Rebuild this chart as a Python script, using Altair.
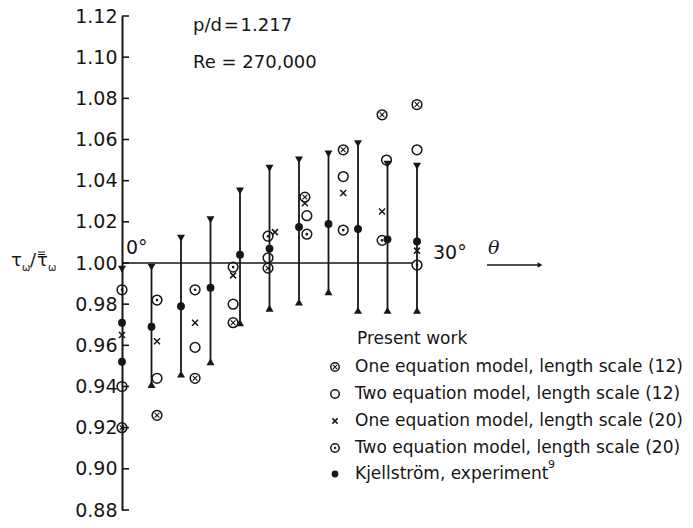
import altair as alt
import pandas as pd

# ---------------- data ----------------
# model results (plotted theta positions, degrees)
one12_theta = [0, 3.56, 7.43, 11.3, 14.85, 18.6, 22.5, 26.45, 30]
one12_val = [0.920, 0.926, 0.944, 0.971, 0.9975, 1.032, 1.055, 1.072, 1.077]
two12_theta = [0, 3.56, 7.43, 11.3, 14.85, 18.8, 22.5, 26.9, 30]
two12_val = [0.940, 0.944, 0.959, 0.980, 1.0025, 1.023, 1.042, 1.050, 1.055]
one20_theta = [0, 3.56, 7.43, 11.3, 15.55, 18.6, 22.5, 26.45, 30]
one20_val = [0.965, 0.962, 0.971, 0.994, 1.015, 1.029, 1.034, 1.025, 1.006]
two20_theta = [0, 3.56, 7.43, 11.3, 14.85, 18.8, 22.5, 26.45, 30]
two20_val = [0.987, 0.982, 0.987, 0.998, 1.013, 1.014, 1.016, 1.011, 0.999]

# Kjellstrom experiment
kj_theta = [0, 0, 3, 6, 9, 12, 15, 18, 21, 24, 27, 30]
kj_val = [0.971, 0.952, 0.969, 0.979, 0.988, 1.004, 1.007, 1.0175, 1.019, 1.0165, 1.0115, 1.0105]

# experimental range bars
bar_theta = [0, 3, 6, 9, 12, 15, 18, 21, 24, 27, 30]
bar_top = [0.997, 0.998, 1.012, 1.021, 1.035, 1.046, 1.050, 1.053, 1.058, 1.048, 1.047]
bar_bottom = [None, 0.941, 0.946, 0.952, 0.971, 0.978, 0.981, 0.986, 0.977, 0.977, 0.977]

tick_values = [0.88, 0.90, 0.92, 0.94, 0.96, 0.98, 1.00, 1.02, 1.04, 1.06, 1.08, 1.10, 1.12]

legend_labels = [
    "One equation model, length scale (12)",
    "Two equation model, length scale (12)",
    "One equation model, length scale (20)",
    "Two equation model, length scale (20)",
    "Kjellström, experiment",
]
legend_kinds = ["one12", "two12", "one20", "two20", "kj"]

# ---------------- styling ----------------
FONT = "DejaVu Sans"
INK = "#161616"
W, H = 295, 494
PAD = {"left": 122, "top": 16, "right": 693 - 122 - W, "bottom": 528 - 16 - H}

xscale = alt.Scale(domain=[0, 30], nice=False, zero=False)
yscale = alt.Scale(domain=[0.88, 1.12], nice=False, zero=False)
yaxis = alt.Axis(values=tick_values, format=".2f", title=None, ticks=False, tickSize=0,
                 labelPadding=5, labelFont=FONT, labelFontSize=19, labelColor=INK,
                 domainColor=INK, domainWidth=2, grid=False, labelOverlap=False)


def X(f):
    return alt.X(f, type="quantitative", scale=xscale, axis=None)


def Y(f):
    return alt.Y(f, type="quantitative", scale=yscale, axis=yaxis)


def series_df(theta, vals):
    return pd.DataFrame({"theta": theta, "value": vals})


CROSS = "M-1,-1L1,1M-1,1L1,-1"


def symbol(df, kind, enc, k=1.0):
    layers = []
    if kind in ("one12", "two12", "two20"):
        layers.append(alt.Chart(df).mark_point(shape="circle", filled=False, color=INK,
                                               strokeWidth=1.5, size=95 * k, opacity=1).encode(**enc))
    if kind == "one12":
        layers.append(alt.Chart(df).mark_point(shape=CROSS, filled=False, color=INK,
                                               strokeWidth=1.1, size=22 * k, opacity=1).encode(**enc))
    if kind == "two20":
        layers.append(alt.Chart(df).mark_point(shape="circle", filled=True, color=INK,
                                               size=7 * k, opacity=1).encode(**enc))
    if kind == "one20":
        layers.append(alt.Chart(df).mark_point(shape=CROSS, filled=False, color=INK,
                                               strokeWidth=1.5, size=36 * k, opacity=1).encode(**enc))
    if kind == "kj":
        layers.append(alt.Chart(df).mark_point(shape="circle", filled=True, color=INK,
                                               size=62 * k, opacity=1).encode(**enc))
    return layers


layers = []

# inward y ticks
ticks_df = pd.DataFrame({"value": tick_values})
layers.append(alt.Chart(ticks_df).mark_rule(color=INK, strokeWidth=1.6).encode(
    y=Y("value"), x=alt.value(0), x2=alt.value(7)))

# 1.00 baseline
base_df = pd.DataFrame({"value": [1.0]})
layers.append(alt.Chart(base_df).mark_rule(color=INK, strokeWidth=1.6).encode(
    y=Y("value"), x=alt.value(0), x2=alt.value(290)))

# range bars
bars = pd.DataFrame({"theta": bar_theta, "top": bar_top, "bottom": bar_bottom})
bars_full = bars.dropna()
layers.append(alt.Chart(bars_full).mark_rule(color=INK, strokeWidth=1.8).encode(
    x=X("theta"), y=Y("bottom"), y2="top"))
layers.append(alt.Chart(bars).mark_point(shape="triangle-down", filled=True, color=INK,
                                         size=64, opacity=1).encode(x=X("theta"), y=Y("top")))
layers.append(alt.Chart(bars_full).mark_point(shape="triangle-up", filled=True, color=INK,
                                              size=64, opacity=1).encode(x=X("theta"), y=Y("bottom")))

# data points
for kind, th, vv in [("one12", one12_theta, one12_val), ("two12", two12_theta, two12_val),
                     ("one20", one20_theta, one20_val), ("two20", two20_theta, two20_val),
                     ("kj", kj_theta, kj_val)]:
    layers += symbol(series_df(th, vv), kind, {"x": X("theta"), "y": Y("value")})

one = pd.DataFrame({"k": [0]})


def txt(s, x, y, size=19, align="left", style="normal", font=FONT, baseline="middle"):
    return alt.Chart(one).mark_text(text=s, font=font, fontSize=size, color=INK, align=align,
                                    baseline=baseline, fontStyle=style).encode(
        x=alt.value(x), y=alt.value(y))


def hline(x1, x2, y, w=1.0):
    return alt.Chart(one).mark_rule(color=INK, strokeWidth=w).encode(
        x=alt.value(x1), x2=alt.value(x2), y=alt.value(y))


# annotations
layers.append(txt("p/d\u200a=\u200a1.217", 71, 10, 18))
layers.append(txt("Re = 270,000", 71, 47, 18))
layers.append(txt("0°", 4, 232, 19))
layers.append(txt("30°", 311, 237, 19))
layers.append(txt("θ", 366, 232, 19, style="italic", font="DejaVu Serif"))
layers.append(hline(365, 417, 249, 1.5))
layers.append(alt.Chart(one).mark_point(shape="triangle-right", filled=True, color=INK,
                                        size=30, opacity=1).encode(x=alt.value(418), y=alt.value(249)))

# y-axis title  tau_w / double-bar tau_w
layers.append(txt("τ", -111, 245, 18))
layers.append(txt("ω", -100, 252, 10))
layers.append(txt("/", -92, 245, 18))
layers.append(txt("τ", -85, 245, 18))
layers.append(hline(-84, -77, 236, 1.0))
layers.append(hline(-84, -77, 238.5, 1.0))
layers.append(txt("ω", -74, 252, 10))

# legend
layers.append(txt("Present work", 235, 323, 17))
leg_y = [351, 378, 405, 432, 458]
for lab, kind, yy in zip(legend_labels, legend_kinds, leg_y):
    layers += symbol(one, kind, {"x": alt.value(213), "y": alt.value(yy)}, k=0.75)
    layers.append(txt(lab, 233, yy, 17))
layers.append(txt("9", 426, 449, 11))

chart = alt.layer(*layers).properties(
    width=W, height=H, padding=PAD,
    autosize=alt.AutoSizeParams(type="none"),
    background="white",
).configure_view(stroke=None)

chart.save("out.html", embed_options={"renderer": "svg", "actions": False})
